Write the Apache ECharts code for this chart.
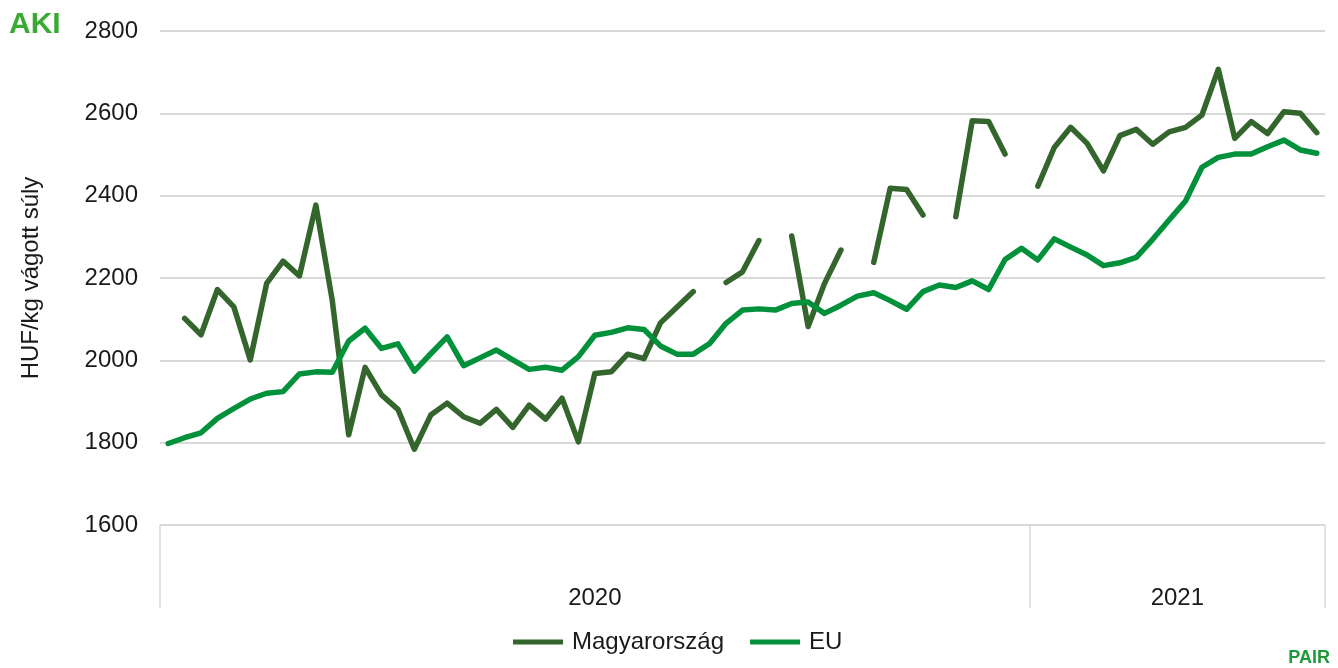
<!DOCTYPE html>
<html>
<head>
<meta charset="utf-8">
<title>Sertés ár</title>
<script src="https://cdn.jsdelivr.net/npm/echarts@6/dist/echarts.min.js"></script>
<style>
  html, body { margin: 0; padding: 0; background: #fff; }
  #chart { width: 1338px; height: 668px; }
</style>
</head>
<body>
<div id="chart"></div>
<script>
// weeks per year on the category axis
const years = ['2020', '2021']
const weeksPerYear = [53, 18]

// HUF/kg vágott súly, weekly
const huPrices = [
  null, 2102, 2062, 2172, 2130, 2001, 2187, 2241, 2205, 2377,
  2145, 1819, 1983, 1916, 1881, 1784, 1867, 1896, 1863, 1847,
  1881, 1837, 1891, 1857, 1908, 1802, 1968, 1972, 2015, 2004,
  2091, 2129, 2167, null, 2189, 2215, 2291, null, 2302, 2082,
  2187, 2268, null, 2238, 2418, 2415, 2353, null, 2349, 2582,
  2580, 2501, null, 2423, 2517, 2566, 2527, 2460, 2546, 2561,
  2525, 2555, 2566, 2596, 2707, 2539, 2580, 2551, 2604, 2600,
  2553
]
const euPrices = [
  1798, 1812, 1824, 1859, 1883, 1906, 1920, 1924, 1967, 1972,
  1971, 2047, 2078, 2029, 2040, 1974, 2016, 2057, 1987, 2006,
  2025, 2001, 1978, 1983, 1976, 2009, 2061, 2068, 2079, 2075,
  2035, 2015, 2015, 2041, 2090, 2122, 2125, 2122, 2138, 2142,
  2114, 2134, 2156, 2164, 2145, 2124, 2167, 2183, 2177, 2193,
  2172, 2245, 2272, 2244, 2295, 2275, 2256, 2230, 2237, 2250,
  2294, 2341, 2387, 2469, 2493, 2501, 2501, 2519, 2535, 2511,
  2503
]

const yTicks = { min: 1600, max: 2800, interval: 200 }

// build week categories + year group boundaries
const weeks = []
const yearBounds = [0]
const yearMids = []
years.forEach((y, k) => {
  const start = weeks.length
  for (let w = 1; w <= weeksPerYear[k]; w++) weeks.push(y + '. ' + w + '. hét')
  yearBounds.push(weeks.length)
  yearMids.push((start + weeks.length) / 2)
})

const font = 'Liberation Sans, Arial, sans-serif'
const fs = 24
const txt = '#1a1a1a'
const chart = echarts.init(document.getElementById('chart'))

chart.setOption({
  animation: false,
  textStyle: { fontFamily: font },
  grid: { left: 160, right: 13, top: 31, bottom: 143 },
  legend: {
    bottom: 9,
    left: 508,
    icon: 'rect',
    itemWidth: 50,
    itemHeight: 5,
    itemGap: 26,
    textStyle: { fontSize: fs, color: txt, fontFamily: font, padding: [0, 0, 0, 4] },
    data: ['Magyarország', 'EU']
  },
  xAxis: [
    {
      type: 'category',
      data: weeks,
      boundaryGap: true,
      axisLine: { show: false },
      axisTick: { show: false },
      axisLabel: { show: false }
    },
    {
      type: 'value',
      min: 0,
      max: weeks.length,
      position: 'bottom',
      axisLine: { show: false },
      splitLine: { show: false },
      axisTick: {
        show: true,
        customValues: yearBounds,
        length: 83,
        lineStyle: { color: '#d9d9d9', width: 1.5 }
      },
      axisLabel: {
        customValues: yearMids,
        margin: 61,
        fontSize: fs,
        color: txt,
        formatter: v => years[yearMids.indexOf(v)]
      }
    }
  ],
  yAxis: {
    type: 'value',
    min: yTicks.min,
    max: yTicks.max,
    interval: yTicks.interval,
    name: 'HUF/kg vágott súly',
    nameLocation: 'middle',
    nameRotate: 90,
    nameGap: 117,
    nameTextStyle: { fontSize: fs, color: txt },
    axisLine: { show: false },
    axisTick: { show: false },
    axisLabel: { fontSize: fs, color: txt, margin: 22, formatter: v => String(v) },
    splitLine: { lineStyle: { color: '#d9d9d9', width: 2 } }
  },
  series: [
    {
      name: 'Magyarország',
      type: 'line',
      data: huPrices,
      connectNulls: false,
      showSymbol: false,
      symbol: 'none',
      color: '#33652d',
      lineStyle: { width: 5.5, cap: 'round', join: 'round' }
    },
    {
      name: 'EU',
      type: 'line',
      data: euPrices,
      showSymbol: false,
      symbol: 'none',
      color: '#00913a',
      lineStyle: { width: 5.5, cap: 'round', join: 'round' }
    }
  ],
  graphic: [
    {
      type: 'text',
      left: 9,
      top: 10,
      style: { text: 'AKI', fontSize: 30, fontWeight: 'bold', fill: '#3aa935', fontFamily: font }
    },
    {
      type: 'text',
      right: 8,
      bottom: 1,
      style: { text: 'PAIR', fontSize: 18, fontWeight: 'bold', fill: '#1f9a3a', fontFamily: font }
    }
  ]
})
</script>
</body>
</html>
